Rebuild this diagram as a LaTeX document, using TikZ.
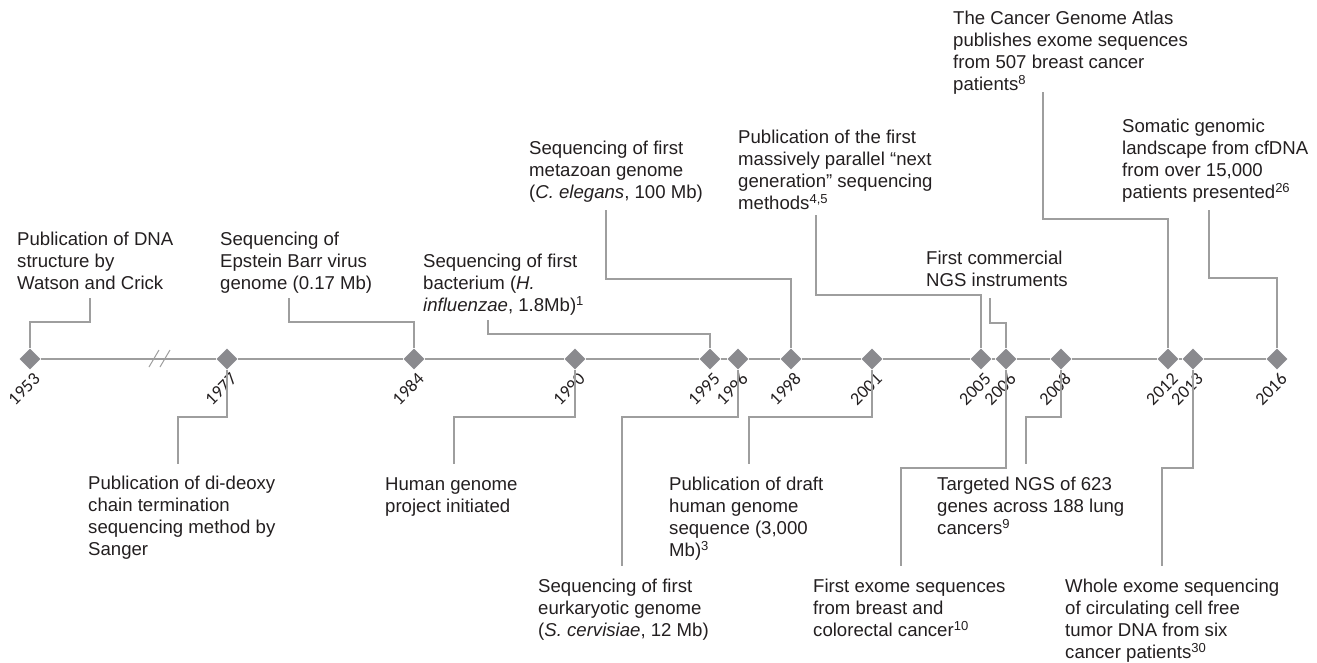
\documentclass[tikz,border=0pt]{standalone}
\usepackage{fontspec}
\setmainfont{Liberation Sans}
\newfontfamily\yearfont{Carlito}
\usetikzlibrary{shapes.geometric}
\definecolor{ink}{RGB}{35,31,32}
\definecolor{rule}{RGB}{158,158,158}
\definecolor{gemcol}{RGB}{138,138,142}
\begin{document}
\begin{tikzpicture}[x=1pt,y=-1pt,
    ev/.style={anchor=north west, align=left, inner sep=0pt, text=ink,
        font=\fontsize{18.6}{22}\selectfont},
    gem/.style={diamond, aspect=1, fill=gemcol, inner sep=0pt, minimum size=21pt},
    year/.style={xshift=7pt, yshift=-17pt, rotate=45, anchor=east, inner sep=0pt,
        text=ink, font=\yearfont\fontsize{18}{18}\selectfont},
    link/.style={draw=rule, line width=1.2pt},
    axis/.style={draw=rule, line width=1.5pt}]
\useasboundingbox (0,0) rectangle (1317,662);

% time line
\foreach \yr/\x in {1953/30,1977/227,1984/414,1990/575,1995/710,1996/738,1998/791,
    2001/872,2005/981,2006/1006,2008/1061,2012/1168,2013/1193,2016/1277}{
    \node[gem] (d\yr) at (\x,359) {};
    \node[year] (y\yr) at (d\yr) {\yr};
}
\foreach \a/\b in {1953/1977,1977/1984,1984/1990,1990/1995,1995/1996,1996/1998,
    1998/2001,2001/2005,2005/2006,2006/2008,2008/2012,2012/2013,2013/2016}
    \draw[axis] (d\a) -- (d\b);
% break marks
\draw[rule, line width=1pt] (149,367) -- (159,350);
\draw[rule, line width=1pt] (160,367) -- (170,350);

% events above
\node[ev] (ev53) at (17,232) {Publication of DNA\\structure by\\Watson and Crick};
\node[ev] (ev84) at (220,232) {Sequencing of\\Epstein Barr virus\\genome (0.17 Mb)};
\node[ev] (ev95) at (423,254) {Sequencing of first\\bacterium (\textit{H.}\\\textit{influenzae}, 1.8Mb)\textsuperscript{1}};
\node[ev] (ev98) at (529,141) {Sequencing of first\\metazoan genome\\(\textit{C. elegans}, 100 Mb)};
\node[ev] (ev05) at (738,130) {Publication of the first\\massively parallel “next\\generation” sequencing\\methods\textsuperscript{4,5}};
\node[ev] (ev06) at (926,251) {First commercial\\NGS instruments};
\node[ev] (ev12) at (953,11) {The Cancer Genome Atlas\\publishes exome sequences\\from 507 breast cancer\\patients\textsuperscript{8}};
\node[ev] (ev16) at (1122,119) {Somatic genomic\\landscape from cfDNA\\from over 15,000\\patients presented\textsuperscript{26}};

% events below
\node[ev] (ev77) at (88,476) {Publication of di-deoxy\\chain termination\\sequencing method by\\Sanger};
\node[ev] (ev90) at (385,477) {Human genome\\project initiated};
\node[ev] (ev96) at (538,579) {Sequencing of first\\eurkaryotic genome\\(\textit{S. cervisiae}, 12 Mb)};
\node[ev] (ev01) at (669,477) {Publication of draft\\human genome\\sequence (3,000\\Mb)\textsuperscript{3}};
\node[ev] (ev08) at (937,477) {Targeted NGS of 623\\genes across 188 lung\\cancers\textsuperscript{9}};
\node[ev] (ev06b) at (813,579) {First exome sequences\\from breast and\\colorectal cancer\textsuperscript{10}};
\node[ev] (ev13) at (1065,579) {Whole exome sequencing\\of circulating cell free\\tumor DNA from six\\cancer patients\textsuperscript{30}};

% connector ends
\coordinate (s53) at (90,298);
\coordinate (s84) at (289,298);
\coordinate (s95) at (488,320);
\coordinate (s98) at (606,210);
\coordinate (s05) at (816,215);
\coordinate (s06) at (990,298);
\coordinate (s12) at (1043,92);
\coordinate (s16) at (1209,210);
\coordinate (t77) at (178,464);
\coordinate (t90) at (454,464);
\coordinate (t96) at (622,566);
\coordinate (t01) at (749,464);
\coordinate (t06) at (901,566);
\coordinate (t08) at (1026,464);
\coordinate (t13) at (1162,566);

\draw[link] (s53) -- ++(0,24) -| (d1953);
\draw[link] (s84) -- ++(0,24) -| (d1984);
\draw[link] (s95) -- ++(0,14) -| (d1995);
\draw[link] (s98) -- ++(0,69) -| (d1998);
\draw[link] (s05) -- ++(0,80) -| (d2005);
\draw[link] (s06) -- ++(0,25) -| (d2006);
\draw[link] (s12) -- ++(0,127) -| (d2012);
\draw[link] (s16) -- ++(0,68) -| (d2016);

\draw[link] (d1977) -- ++(0,58) -| (t77);
\draw[link] (d1990) -- ++(0,58) -| (t90);
\draw[link] (d1996) -- ++(0,58) -| (t96);
\draw[link] (d2001) -- ++(0,58) -| (t01);
\draw[link] (d2006) -- ++(0,109) -| (t06);
\draw[link] (d2008) -- ++(0,58) -| (t08);
\draw[link] (d2013) -- ++(0,109) -| (t13);
\end{tikzpicture}
\end{document}
